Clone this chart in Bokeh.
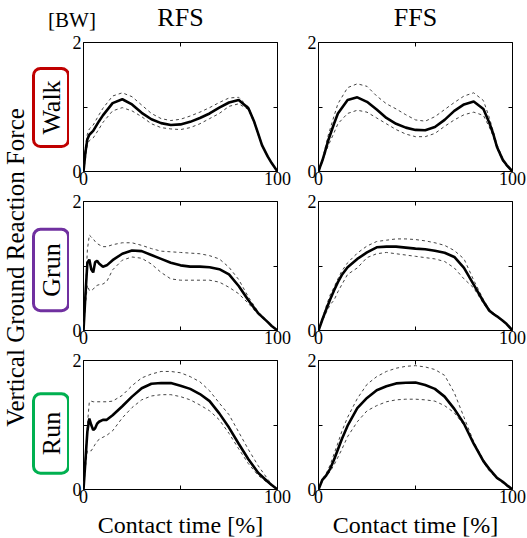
import math
from bokeh.plotting import figure
from bokeh.models import Range1d, FixedTicker, LinearAxis, Label
from bokeh.layouts import row, column
from bokeh.embed import file_html
from bokeh.resources import INLINE

FONT = "Liberation Serif"

# ---------------- data (contact time %, vertical GRF in body weights) ----------------
x_walk = [0, 1, 2, 3, 5, 8, 10, 15, 20, 25, 30, 35, 40, 45, 50, 55, 60, 65, 70, 75,
          80, 85, 88, 90, 92, 95, 97, 100]
rfs_walk_mean = [0, 0.30, 0.50, 0.57, 0.63, 0.78, 0.87, 1.06, 1.12, 1.04, 0.91, 0.81, 0.75, 0.72,
                 0.73, 0.77, 0.83, 0.90, 0.99, 1.07, 1.11, 0.98, 0.77, 0.59, 0.41, 0.23, 0.13, 0]
rfs_walk_upper = [0, 0.40, 0.58, 0.66, 0.72, 0.88, 0.98, 1.17, 1.22, 1.16, 1.03, 0.90, 0.82, 0.79,
                  0.81, 0.86, 0.92, 0.99, 1.07, 1.14, 1.15, 1.00, 0.79, 0.60, 0.42, 0.24, 0.13, 0]
rfs_walk_lower = [0, 0.20, 0.42, 0.48, 0.52, 0.66, 0.76, 0.94, 0.99, 0.94, 0.85, 0.74, 0.68, 0.66,
                  0.65, 0.68, 0.74, 0.82, 0.90, 1.01, 1.05, 0.96, 0.75, 0.57, 0.40, 0.22, 0.12, 0]

ffs_walk_mean = [0, 0.09, 0.17, 0.27, 0.48, 0.74, 0.90, 1.11, 1.15, 1.08, 0.96, 0.83, 0.74, 0.68,
                 0.645, 0.64, 0.69, 0.80, 0.94, 1.04, 1.085, 0.97, 0.76, 0.59, 0.38, 0.18, 0.10, 0]
ffs_walk_upper = [0, 0.10, 0.19, 0.31, 0.56, 0.86, 1.05, 1.30, 1.36, 1.32, 1.17, 1.05, 0.97, 0.88,
                  0.80, 0.78, 0.85, 0.96, 1.07, 1.17, 1.22, 1.10, 0.84, 0.63, 0.42, 0.20, 0.10, 0]
ffs_walk_lower = [0, 0.08, 0.15, 0.24, 0.40, 0.60, 0.74, 0.90, 0.95, 0.92, 0.83, 0.74, 0.65, 0.58,
                  0.54, 0.54, 0.59, 0.70, 0.80, 0.88, 0.92, 0.87, 0.69, 0.55, 0.36, 0.16, 0.08, 0]

x_rfs = [0, 1, 2, 3, 4, 5, 6, 7, 8, 10, 12, 15, 20, 25, 30, 35, 40, 45, 50, 55, 60, 65, 70, 75,
         80, 85, 90, 95, 97, 100]
rfs_grun_mean = [0, 0.55, 1.05, 1.10, 0.95, 0.90, 1.06, 1.08, 1.04, 0.99, 1.01, 1.09, 1.19, 1.24,
                 1.23, 1.17, 1.11, 1.05, 1.01, 0.99, 0.99, 0.98, 0.95, 0.87, 0.69, 0.47, 0.27,
                 0.13, 0.07, 0]
rfs_grun_upper = [0, 0.60, 1.25, 1.48, 1.45, 1.42, 1.38, 1.35, 1.33, 1.30, 1.30, 1.33, 1.36, 1.36,
                  1.32, 1.27, 1.23, 1.22, 1.21, 1.20, 1.19, 1.16, 1.11, 0.98, 0.79, 0.52, 0.29,
                  0.14, 0.07, 0]
rfs_grun_lower = [0, 0.40, 0.70, 0.62, 0.62, 0.64, 0.68, 0.70, 0.71, 0.72, 0.76, 0.94, 1.09, 1.14,
                  1.12, 1.03, 0.90, 0.80, 0.78, 0.78, 0.78, 0.78, 0.75, 0.67, 0.57, 0.42, 0.25,
                  0.12, 0.06, 0]

rfs_run_mean = [0, 0.45, 0.90, 1.10, 1.00, 0.92, 0.95, 1.02, 1.05, 1.08, 1.08, 1.15, 1.29, 1.44,
                1.57, 1.64, 1.65, 1.65, 1.61, 1.56, 1.48, 1.37, 1.18, 0.96, 0.71, 0.47, 0.26,
                0.12, 0.07, 0]
rfs_run_upper = [0, 0.50, 1.00, 1.36, 1.37, 1.36, 1.36, 1.36, 1.36, 1.36, 1.36, 1.37, 1.46, 1.61,
                 1.73, 1.79, 1.83, 1.83, 1.81, 1.75, 1.67, 1.53, 1.34, 1.16, 0.89, 0.62, 0.37,
                 0.16, 0.08, 0]
rfs_run_lower = [0, 0.35, 0.60, 0.60, 0.60, 0.65, 0.70, 0.74, 0.78, 0.81, 0.84, 0.91, 1.11, 1.27,
                 1.39, 1.45, 1.47, 1.47, 1.44, 1.39, 1.31, 1.22, 1.08, 0.87, 0.63, 0.40, 0.22,
                 0.10, 0.06, 0]

x_ffs = [0, 2, 4, 6, 8, 10, 12, 15, 20, 25, 30, 35, 40, 45, 50, 55, 60, 65, 70, 75, 80, 85, 88,
         90, 92, 95, 97, 100]
ffs_grun_mean = [0, 0.17, 0.33, 0.48, 0.62, 0.75, 0.86, 0.98, 1.11, 1.21, 1.29, 1.30, 1.30, 1.285,
                 1.27, 1.26, 1.235, 1.205, 1.14, 0.97, 0.71, 0.45, 0.31, 0.26, 0.22, 0.15, 0.10, 0]
ffs_grun_upper = [0, 0.19, 0.38, 0.55, 0.67, 0.80, 0.92, 1.05, 1.20, 1.31, 1.38, 1.40, 1.42, 1.42,
                  1.41, 1.39, 1.36, 1.32, 1.24, 1.11, 0.78, 0.48, 0.33, 0.28, 0.23, 0.16, 0.10, 0]
ffs_grun_lower = [0, 0.15, 0.28, 0.40, 0.47, 0.60, 0.71, 0.87, 0.97, 1.13, 1.19, 1.21, 1.19, 1.17,
                  1.15, 1.13, 1.11, 1.07, 0.97, 0.80, 0.66, 0.42, 0.29, 0.25, 0.21, 0.14, 0.09, 0]

ffs_run_mean = [0, 0.15, 0.22, 0.32, 0.46, 0.62, 0.78, 0.99, 1.26, 1.42, 1.54, 1.60, 1.645, 1.655,
                1.66, 1.62, 1.56, 1.44, 1.25, 1.02, 0.71, 0.44, 0.32, 0.25, 0.18, 0.12, 0.07, 0]
ffs_run_upper = [0, 0.16, 0.25, 0.38, 0.55, 0.72, 0.90, 1.12, 1.41, 1.63, 1.75, 1.83, 1.88, 1.91,
                 1.92, 1.90, 1.86, 1.77, 1.50, 1.12, 0.74, 0.46, 0.33, 0.26, 0.19, 0.12, 0.07, 0]
ffs_run_lower = [0, 0.13, 0.20, 0.28, 0.38, 0.50, 0.62, 0.82, 1.05, 1.22, 1.30, 1.36, 1.39, 1.40,
                 1.40, 1.39, 1.37, 1.30, 1.19, 1.00, 0.73, 0.42, 0.29, 0.23, 0.17, 0.10, 0.05, 0]

col_titles = ["RFS", "FFS"]
row_names = ["Walk", "Grun", "Run"]
row_colors = ["#C00000", "#7030A0", "#00B050"]
unit_label = "[BW]"
x_title = "Contact time [%]"
y_title = "Vertical Ground Reaction Force"
x_ticks = [0, 50, 100]
y_ticks = [0, 1, 2]

# ---------------- layout geometry (page pixels; the page has no margin) ----------------
PAGE_W = 527
FRAME_W, FRAME_H = 194, 129
LEFT_COL_W = 69                      # text column on the left
HEADER_H, FOOTER_H = 32, 29
BORDER_LR = [(14, 18), (23, 15)]     # left/right borders of the two panel columns
BORDER_TB = [(10, 20), (10, 20), (10, 20)]
FRAME_CX = [LEFT_COL_W + BORDER_LR[0][0] + FRAME_W / 2,
            LEFT_COL_W + BORDER_LR[0][0] + FRAME_W + BORDER_LR[0][1] + BORDER_LR[1][0]
            + FRAME_W / 2]
GRID_H = sum(t + FRAME_H + b for t, b in BORDER_TB)


def axis_style(ax, labels=True):
    ax.axis_line_color = None
    ax.major_tick_in = 4
    ax.major_tick_out = 0
    ax.major_tick_line_color = "black"
    ax.major_tick_line_width = 1
    ax.minor_tick_line_color = None
    ax.major_label_text_font = FONT
    ax.major_label_text_color = "black"
    if labels:
        ax.major_label_text_font_size = "18px"
    else:
        ax.major_label_text_font_size = "0px"
        ax.major_label_standoff = 0


def panel(r, c, x, mean, upper, lower):
    bl, br = BORDER_LR[c]
    bt, bb = BORDER_TB[r]
    p = figure(frame_width=FRAME_W, frame_height=FRAME_H,
               min_border_left=bl, min_border_right=br,
               min_border_top=bt, min_border_bottom=bb,
               x_range=Range1d(0, 100), y_range=Range1d(0, 2),
               x_axis_type=None, y_axis_type=None,
               output_backend="svg", toolbar_location=None)
    p.outline_line_color = "black"
    p.outline_line_width = 1
    p.background_fill_color = "white"
    p.border_fill_color = "white"

    xb = LinearAxis(ticker=FixedTicker(ticks=x_ticks, minor_ticks=[]),
                    major_label_overrides={50: ""})
    axis_style(xb)
    xb.major_label_standoff = 0
    p.add_layout(xb, "below")
    yl = LinearAxis(ticker=FixedTicker(ticks=y_ticks, minor_ticks=[]),
                    major_label_overrides={1: ""})
    axis_style(yl)
    yl.major_label_standoff = 2
    p.add_layout(yl, "left")
    xa = LinearAxis(ticker=FixedTicker(ticks=x_ticks, minor_ticks=[]),
                    major_label_overrides={0: "", 50: "", 100: ""})
    axis_style(xa, labels=False)
    p.add_layout(xa, "above")
    yr = LinearAxis(ticker=FixedTicker(ticks=y_ticks, minor_ticks=[]),
                    major_label_overrides={0: "", 1: "", 2: ""})
    axis_style(yr, labels=False)
    p.add_layout(yr, "right")

    p.line(x, upper, line_color="#444444", line_width=1, line_dash="3 3")
    p.line(x, lower, line_color="#444444", line_width=1, line_dash="3 3")
    p.line(x, mean, line_color="black", line_width=2.6)
    return p


def text_strip(w, h):
    f = figure(width=w, height=h, x_range=Range1d(0, w), y_range=Range1d(h, 0),
               min_border=0, x_axis_type=None, y_axis_type=None,
               output_backend="svg", toolbar_location=None)
    f.outline_line_color = None
    f.background_fill_color = "white"
    f.border_fill_color = "white"
    return f


tl = panel(0, 0, x_walk, rfs_walk_mean, rfs_walk_upper, rfs_walk_lower)
tr = panel(0, 1, x_walk, ffs_walk_mean, ffs_walk_upper, ffs_walk_lower)
ml = panel(1, 0, x_rfs, rfs_grun_mean, rfs_grun_upper, rfs_grun_lower)
mr = panel(1, 1, x_ffs, ffs_grun_mean, ffs_grun_upper, ffs_grun_lower)
bl = panel(2, 0, x_rfs, rfs_run_mean, rfs_run_upper, rfs_run_lower)
br = panel(2, 1, x_ffs, ffs_run_mean, ffs_run_upper, ffs_run_lower)

# header: column titles and unit
header = text_strip(PAGE_W, HEADER_H)
for c in range(2):
    header.add_layout(Label(x=FRAME_CX[c], y=17, text=col_titles[c], text_align="center",
                            text_baseline="middle", text_font=FONT,
                            text_font_size="26px", text_color="black"))
header.add_layout(Label(x=71.5, y=19.5, text=unit_label, text_align="center",
                        text_baseline="middle", text_font=FONT,
                        text_font_size="21px", text_color="black"))

# left column: vertical axis title and boxed row names (y measured from top of grid)
side = text_strip(LEFT_COL_W, GRID_H)
side.add_layout(Label(x=15, y=267 - HEADER_H, text=y_title, angle=math.pi / 2,
                      text_align="center", text_baseline="middle", text_font=FONT,
                      text_font_size="25px", text_color="black"))
box_centers = [107, 269.5, 433]
text_len = {"Walk": 52, "Grun": 49, "Run": 40}
for r, name in enumerate(row_names):
    hp = int(round((77 - text_len[name]) / 2))
    side.add_layout(Label(x=50.5, y=box_centers[r] - HEADER_H, text=name, angle=math.pi / 2,
                          text_align="center", text_baseline="middle", text_font=FONT,
                          text_font_size="26px", text_color="black",
                          background_fill_color="white",
                          border_line_color=row_colors[r], border_line_width=3,
                          border_radius=7,
                          padding=dict(left=hp, right=hp, top=3, bottom=3)))

# footer: x-axis titles
footer = text_strip(PAGE_W, FOOTER_H)
for c in range(2):
    footer.add_layout(Label(x=FRAME_CX[c], y=15.5, text=x_title, text_align="center",
                            text_baseline="middle", text_font=FONT,
                            text_font_size="24px", text_color="black"))

grid = column(row(tl, tr), row(ml, mr), row(bl, br))
layout = column(header, row(side, grid), footer)

open("out.html", "w").write(file_html(layout, INLINE))
